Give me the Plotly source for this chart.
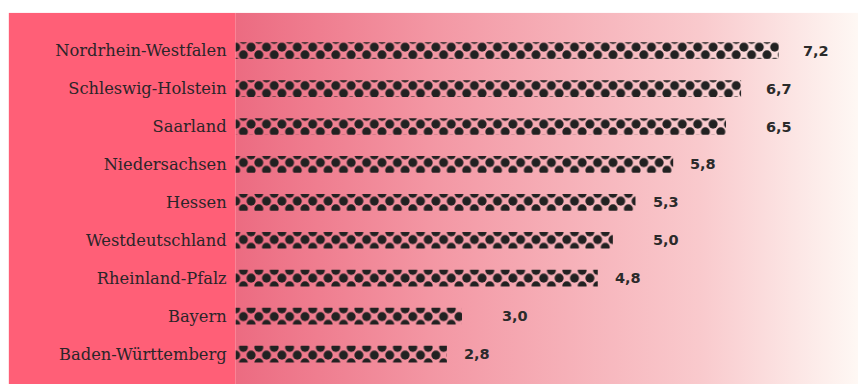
import base64
import math
import plotly.graph_objects as go

# Arbeitslosenquote nach Land (Prozent)
laender = [
    "Nordrhein-Westfalen",
    "Schleswig-Holstein",
    "Saarland",
    "Niedersachsen",
    "Hessen",
    "Westdeutschland",
    "Rheinland-Pfalz",
    "Bayern",
    "Baden-Württemberg",
]
quoten = [7.2, 6.7, 6.5, 5.8, 5.3, 5.0, 4.8, 3.0, 2.8]

# Canvas and plot geometry (px)
W, H = 858, 384
PLOT_X0, PLOT_Y0 = 236, 32    # top-left corner of the bar area
M_R, M_B = 0, 11
BG_X0, BG_Y0 = 9, 13          # top-left of the coloured panel
X_MAX = 8.25                  # axis range end

# Dot texture: square tile with one dot; a second copy of the bars whose
# subplot origin sits half a tile up/left turns the grid into a staggered one.
TILE = 15.4
HALF = TILE / 2

M_L = PLOT_X0 - HALF
M_T = PLOT_Y0 - HALF
paper_w = W - M_L - M_R
paper_h = H - M_T - M_B
plot_w = W - PLOT_X0 - M_R
plot_h = H - PLOT_Y0 - M_B
px_per_unit = plot_w / X_MAX
n = len(laender)
px_per_cat = plot_h / n

# Background panel: solid red under the labels, fading gradient under the bars
panel_w = W - BG_X0
panel_h = H - BG_Y0
label_w = PLOT_X0 - BG_X0
svg = f'''<svg xmlns="http://www.w3.org/2000/svg" width="{panel_w}" height="{panel_h}" viewBox="0 0 {panel_w} {panel_h}" preserveAspectRatio="none">
<defs><linearGradient id="g" x1="0" y1="0" x2="1" y2="0">
<stop offset="0" stop-color="#ec6b81"/>
<stop offset="0.31" stop-color="#f396a3"/>
<stop offset="0.75" stop-color="#f9cacd"/>
<stop offset="1" stop-color="#fef8f4"/>
</linearGradient></defs>
<rect x="0" y="0" width="{label_w}" height="{panel_h}" fill="#ff5f77"/>
<rect x="{label_w}" y="0" width="{panel_w - label_w}" height="{panel_h}" fill="url(#g)"/>
</svg>'''
bg_src = "data:image/svg+xml;base64," + base64.b64encode(svg.encode("utf-8")).decode("ascii")

dot_marker = dict(
    color="#222222",
    line=dict(width=0),
    pattern=dict(shape=".", size=TILE, solidity=0.27,
                 fgcolor="#222222", bgcolor="rgba(0,0,0,0)",
                 fillmode="replace"),
)

fig = go.Figure()
fig.add_trace(go.Bar(y=laender, x=quoten, orientation="h", marker=dot_marker,
                     xaxis="x", yaxis="y", hoverinfo="skip"))
fig.add_trace(go.Bar(y=laender, x=quoten, orientation="h", marker=dot_marker,
                     xaxis="x2", yaxis="y2", hoverinfo="skip"))

# Value labels snap to the next half-unit step right of each bar
for land, q in zip(laender, quoten):
    lx = math.ceil((q + 0.1) * 2) / 2
    fig.add_annotation(
        x=lx, y=land, xref="x", yref="y",
        text=f"{q:.1f}".replace(".", ","),
        showarrow=False, xanchor="left", yanchor="middle",
        font=dict(family="DejaVu Sans", size=14.5, color="#2b2b2b", weight="bold"),
    )

fig.add_layout_image(
    source=bg_src,
    xref="paper", yref="paper",
    x=(BG_X0 - M_L) / paper_w,
    y=1 + (M_T - BG_Y0) / paper_h,
    sizex=panel_w / paper_w,
    sizey=panel_h / paper_h,
    xanchor="left", yanchor="top",
    sizing="stretch", layer="below",
)

cat_range = [n - 0.5, -0.5]
fig.update_layout(
    width=W, height=H,
    margin=dict(l=M_L, r=M_R, t=M_T, b=M_B, pad=0),
    paper_bgcolor="white",
    plot_bgcolor="rgba(0,0,0,0)",
    bargap=0.56,
    showlegend=False,
    xaxis=dict(domain=[HALF / paper_w, 1], range=[0, X_MAX], anchor="y",
               visible=False, fixedrange=True),
    yaxis=dict(
        domain=[0, 1 - HALF / paper_h], anchor="x",
        categoryorder="array", categoryarray=laender, range=cat_range,
        showgrid=False, zeroline=False, showline=False, ticks="",
        ticklabelstandoff=8,
        tickfont=dict(family="DejaVu Serif", size=16.3, color="#2b2529"),
        fixedrange=True,
    ),
    xaxis2=dict(domain=[0, 1], range=[-HALF / px_per_unit, X_MAX], anchor="y2",
                visible=False, fixedrange=True),
    yaxis2=dict(domain=[0, 1], anchor="x2",
                categoryorder="array", categoryarray=laender,
                range=[n - 0.5, -0.5 - HALF / px_per_cat],
                visible=False, fixedrange=True),
)

fig.write_html("out.html")
